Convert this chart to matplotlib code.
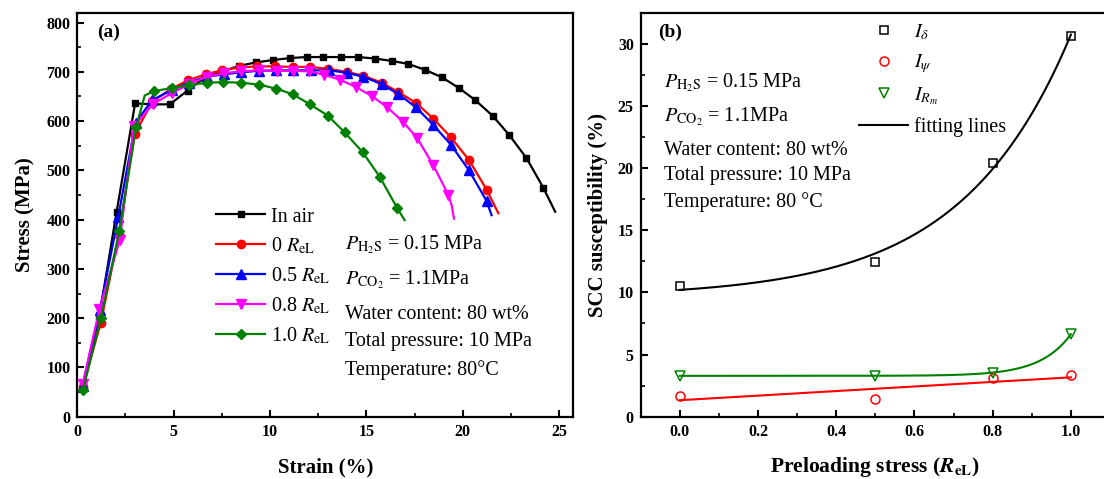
import numpy as np
import matplotlib
matplotlib.use('Agg')
import matplotlib.pyplot as plt
from matplotlib.ticker import MultipleLocator, FormatStrFormatter
from matplotlib.lines import Line2D

plt.rcParams['font.family'] = ['Liberation Serif', 'DejaVu Serif']
plt.rcParams['mathtext.fontset'] = 'stix'

# ---------------- data: panel (a) stress-strain ----------------
air_x = [0.28, 1.15, 2.04, 3.0, 3.9, 4.8, 5.72, 6.6, 7.47, 8.39, 9.25, 10.17, 11.04, 11.9,
         12.76, 13.69, 14.57, 15.43, 16.33, 17.17, 18.04, 18.91, 19.8, 20.63, 21.54, 22.4,
         23.3, 24.17, 24.79]
air_y = [62, 205, 416, 636, 634, 634, 662, 688, 700, 712, 719, 724, 728, 730,
         730, 730, 730, 727, 722, 716, 704, 689, 667, 643, 611, 572,
         525, 465, 416]

r0_x = [0.28, 1.22, 2.15, 2.98, 3.9, 4.85, 5.76, 6.66, 7.52, 8.44, 9.34, 10.25, 11.17, 12.08,
        13.0, 13.97, 14.84, 15.79, 16.65, 17.57, 18.47, 19.38, 20.32, 21.23, 21.84]
r0_y = [60, 191, 369, 574, 640, 665, 683, 695, 703, 709, 711, 711, 710, 710,
        706, 700, 692, 678, 659, 637, 605, 567, 521, 461, 413]

r05_x = [0.28, 1.17, 2.12, 3.02, 3.86, 4.9, 5.78, 6.71, 7.6, 8.49, 9.4, 10.31, 11.2, 12.1,
         13.07, 13.97, 14.84, 15.79, 16.65, 17.57, 18.47, 19.38, 20.32, 21.23, 21.49]
r05_y = [63, 216, 405, 596, 642, 663, 678, 690, 695, 699, 702, 703, 703, 703,
         703, 698, 690, 675, 655, 628, 592, 552, 500, 438, 409]

r08_x = [0.28, 1.15, 2.2, 2.94, 3.91, 4.9, 5.81, 6.71, 7.6, 8.49, 9.43, 10.35, 11.2, 12.03,
         12.81, 13.63, 14.46, 15.27, 16.08, 16.91, 17.64, 18.47, 19.24, 19.42, 19.54]
r08_y = [66, 219, 358, 590, 634, 657, 675, 690, 697, 701, 703, 702, 702, 701,
         694, 684, 669, 651, 628, 598, 565, 510, 451, 429, 402]

r10_x = [0.3, 1.22, 2.18, 3.05, 3.5, 3.98, 4.9, 5.81, 6.71, 7.57, 8.49, 9.43, 10.31, 11.2,
         12.07, 13.0, 13.87, 14.8, 15.69, 16.6, 16.98]
r10_y = [55, 200, 377, 588, 652, 661, 667, 673, 678, 679, 678, 674, 666, 654,
         634, 611, 577, 537, 487, 423, 399]

# ---------------- data: panel (b) SCC susceptibility ----------------
pre = np.array([0.0, 0.5, 0.8, 1.0])
I_delta = np.array([10.55, 12.42, 20.44, 30.6])
I_psi = np.array([1.68, 1.42, 3.1, 3.34])
I_Rm = np.array([3.29, 3.29, 3.55, 6.63])

fig = plt.figure(figsize=(11.04, 4.79), dpi=100)
W, H = 1104.0, 479.0
axL = fig.add_axes([77.3 / W, (H - 416.7) / H, (573.3 - 77.3) / W, 404 / H])
axR = fig.add_axes([640.7 / W, (H - 416.7) / H, (1110 - 640.7) / W, 404 / H])

tick_fs = 11.5
lab_fs = 15
txt_fs = 14.5

def style_axes(ax):
    for s in ax.spines.values():
        s.set_linewidth(1.6)
    ax.tick_params(which='major', direction='in', length=5, width=1.5,
                   top=False, right=False, labelsize=tick_fs, pad=5)
    ax.tick_params(which='minor', direction='in', length=3, width=1.2,
                   top=False, right=False)

# ---------------- panel (a) ----------------
series = [
    (air_x, air_y, 'k', 's', 5.0, 'In air', 1),
    (r0_x, r0_y, '#FF0000', 'o', 6.0, r'0 $\mathit{R}_{\mathrm{eL}}$', 1),
    (r05_x, r05_y, '#0000FF', '^', 6.5, r'0.5 $\mathit{R}_{\mathrm{eL}}$', 1),
    (r08_x, r08_y, '#FF00FF', 'v', 6.5, r'0.8 $\mathit{R}_{\mathrm{eL}}$', 2),
    (r10_x, r10_y, '#008000', 'D', 5.5, r'1.0 $\mathit{R}_{\mathrm{eL}}$', 1),
]
handles = []
for xs, ys, c, m, ms, lab, skip in series:
    n = len(xs)
    idx = list(range(n - skip))
    if c == '#008000':
        idx = [i for i in idx if i != 4]
    axL.plot(xs, ys, color=c, lw=1.6, marker=m, ms=ms, mfc=c, mec=c,
             markevery=idx, zorder=3)
    handles.append(Line2D([], [], color=c, lw=1.6, marker=m, ms=ms, mfc=c, mec=c))

axL.set_xlim(0, 25.73)
axL.set_ylim(0, 820)
axL.xaxis.set_major_locator(MultipleLocator(5))
axL.xaxis.set_minor_locator(MultipleLocator(2.5))
axL.yaxis.set_major_locator(MultipleLocator(100))
axL.yaxis.set_minor_locator(MultipleLocator(50))
style_axes(axL)
axL.set_xlabel('Strain (%)', fontsize=lab_fs, fontweight='bold')
axL.set_ylabel('Stress (MPa)', fontsize=lab_fs, fontweight='bold')
axL.xaxis.set_label_coords(0.5, -0.1)
axL.yaxis.set_label_coords(-0.085, 0.5)

leg = axL.legend(handles, [s[5] for s in series], loc='upper left',
                 bbox_to_anchor=(0.2796, 0.518), frameon=False, fontsize=txt_fs,
                 handlelength=2.45, handletextpad=0.3, labelspacing=0.46,
                 borderpad=0, borderaxespad=0)

axL.text(0.04, 0.952, '(a)', transform=axL.transAxes, fontsize=14,
         fontweight='bold', va='center', ha='left')
left_txt = [
    (0.425, r'$P_{\mathrm{H_2S}}$ = 0.15 MPa'),
    (0.338, r'$P_{\mathrm{CO_2}}$ = 1.1MPa'),
    (0.252, 'Water content: 80 wt%'),
    (0.185, 'Total pressure: 10 MPa'),
    (0.116, 'Temperature: 80\u00b0C'),
]
for yy, t in left_txt:
    axL.text(0.54, yy, t, transform=axL.transAxes, fontsize=txt_fs, va='center', ha='left')

# ---------------- panel (b) ----------------
def exp_fit(x, y):
    best = None
    for t in np.linspace(0.02, 1.5, 2000):
        e = np.exp((x - 1.0) / t)
        M = np.column_stack([np.ones_like(x), e])
        coef = np.linalg.lstsq(M, y, rcond=None)[0]
        r = np.sum((M @ coef - y) ** 2)
        if best is None or r < best[0]:
            best = (r, t, coef)
    return best[1], best[2]

xf = np.linspace(0, 1, 300)
t_d, c_d = exp_fit(pre, I_delta)
t_r, c_r = exp_fit(pre, I_Rm)
p_psi = np.polyfit(pre, I_psi, 1)

axR.plot(xf, c_d[0] + c_d[1] * np.exp((xf - 1) / t_d), color='k', lw=1.5, zorder=2)
axR.plot(xf, np.polyval(p_psi, xf), color='#FF0000', lw=1.5, zorder=2)
axR.plot(xf, c_r[0] + c_r[1] * np.exp((xf - 1) / t_r), color='#008000', lw=1.5, zorder=2)

axR.plot(pre, I_delta, ls='none', marker='s', ms=6, mfc='none', mec='k', mew=1.1, zorder=3)
axR.plot(pre, I_psi, ls='none', marker='o', ms=6.5, mfc='none', mec='#FF0000', mew=1.1, zorder=3)
axR.plot(pre, I_Rm, ls='none', marker='v', ms=7, mfc='none', mec='#008000', mew=1.1, zorder=3)

axR.set_xlim(-0.1, 1.1)
axR.set_ylim(0, 32.5)
axR.xaxis.set_major_locator(MultipleLocator(0.2))
axR.xaxis.set_minor_locator(MultipleLocator(0.1))
axR.yaxis.set_major_locator(MultipleLocator(5))
axR.yaxis.set_minor_locator(MultipleLocator(2.5))
axR.xaxis.set_major_formatter(FormatStrFormatter('%.1f'))
style_axes(axR)
axR.set_xlabel(r'Preloading stress ($\mathbfit{R}_{\mathbf{eL}}$)', fontsize=lab_fs + 0.5, fontweight='bold')
axR.set_ylabel('SCC susceptibility (%)', fontsize=lab_fs, fontweight='bold')
axR.xaxis.set_label_coords(0.5, -0.095)
axR.yaxis.set_label_coords(-0.07, 0.5)

rh = [Line2D([], [], ls='none', marker='s', ms=6, mfc='none', mec='k', mew=1.1),
      Line2D([], [], ls='none', marker='o', ms=6.5, mfc='none', mec='#FF0000', mew=1.1),
      Line2D([], [], ls='none', marker='v', ms=7, mfc='none', mec='#008000', mew=1.1),
      Line2D([], [], color='k', lw=1.5)]
axR.legend(rh, [r'$I_{\delta}$', r'$I_{\psi}$', r'$I_{R_m}$', 'fitting lines'],
           loc='upper left', bbox_to_anchor=(0.465, 0.975), frameon=False,
           fontsize=txt_fs, handlelength=2.45, handletextpad=0.3, labelspacing=0.5,
           borderpad=0, borderaxespad=0)

axR.text(0.037, 0.952, '(b)', transform=axR.transAxes, fontsize=14,
         fontweight='bold', va='center', ha='left')
right_txt = [
    (0.826, r'$P_{\mathrm{H_2S}}$ = 0.15 MPa'),
    (0.742, r'$P_{\mathrm{CO_2}}$ = 1.1MPa'),
    (0.658, 'Water content: 80 wt%'),
    (0.596, 'Total pressure: 10 MPa'),
    (0.531, 'Temperature: 80 \u00b0C'),
]
for yy, t in right_txt:
    axR.text(0.0486, yy, t, transform=axR.transAxes, fontsize=txt_fs, va='center', ha='left')

for ax in (axL, axR):
    for lab in ax.get_xticklabels() + ax.get_yticklabels():
        lab.set_fontweight('bold')

fig.savefig('out.png', dpi=100)
